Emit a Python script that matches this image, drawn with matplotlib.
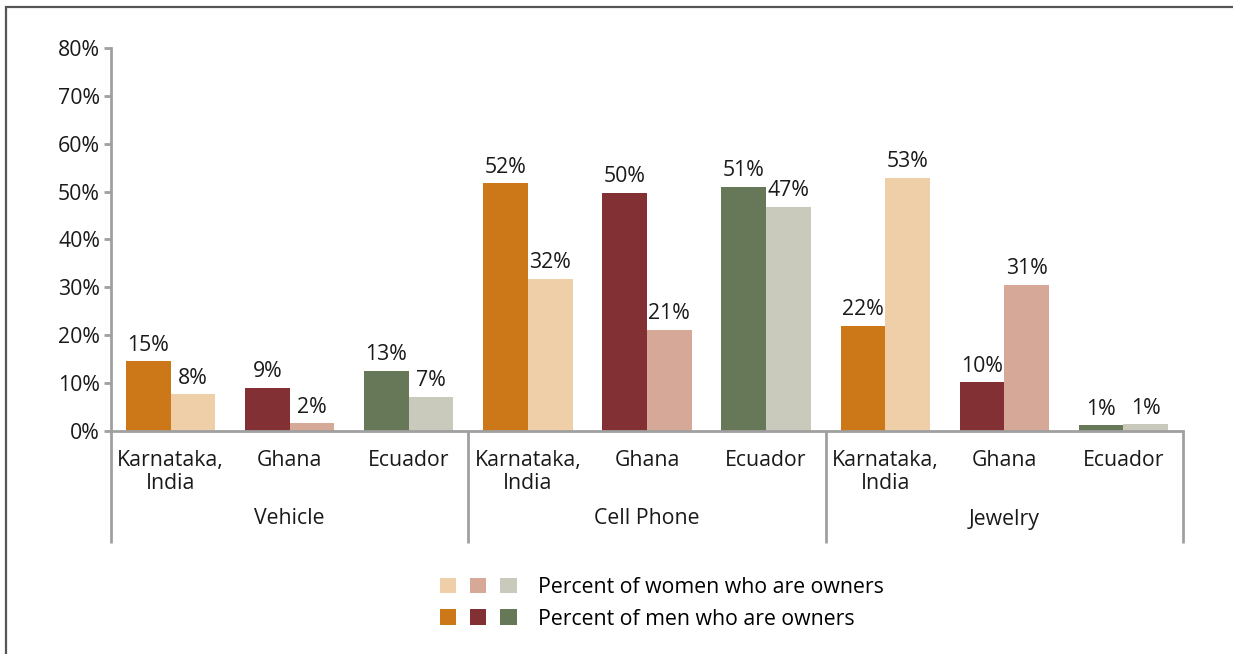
import matplotlib
matplotlib.use("Agg")
import matplotlib.pyplot as plt
from matplotlib.patches import Rectangle, Patch
from matplotlib.legend_handler import HandlerTuple
import matplotlib.transforms as mtransforms

plt.rcParams['font.family'] = ['Open Sans', 'DejaVu Sans']

groups = ["Vehicle", "Cell Phone", "Jewelry"]
countries = ["Karnataka,\nIndia", "Ghana", "Ecuador"]
men = [14.6, 9.0, 12.6,   51.7, 49.8, 51.0,   22.0, 10.2, 1.2]
women = [7.7, 1.6, 7.2,   31.8, 21.2, 46.8,   52.9, 30.6, 1.4]
men_colors = ["#CC7818", "#833034", "#667858"]
women_colors = ["#EFCFA8", "#D6A898", "#C9C9BC"]
yticks = [0, 10, 20, 30, 40, 50, 60, 70, 80]
legend_labels = ["Percent of women who are owners", "Percent of men who are owners"]

W, H = 1233, 654
fig = plt.figure(figsize=(W / 100, H / 100), dpi=100)
ax = fig.add_axes([111 / W, 1 - 431 / H, (1183 - 111) / W, (431 - 48) / H])

FS = 15.3
axis_gray = "#A0A0A0"
bw = 0.375
n = len(men)
for i in range(n):
    c = i % 3
    xc = i + 0.5
    ax.bar(xc - bw / 2, men[i], width=bw, color=men_colors[c], edgecolor='none')
    ax.bar(xc + bw / 2, women[i], width=bw, color=women_colors[c], edgecolor='none')
    ax.annotate(f"{round(men[i])}%", (xc - bw / 2, men[i]), xytext=(0, 4),
                textcoords='offset points', ha='center', va='bottom', fontsize=FS, color='#1a1a1a')
    ax.annotate(f"{round(women[i])}%", (xc + bw / 2, women[i]), xytext=(0, 4),
                textcoords='offset points', ha='center', va='bottom', fontsize=FS, color='#1a1a1a')

ax.set_xlim(0, n)
ax.set_ylim(0, 80)
ax.set_yticks(yticks)
ax.set_yticklabels([f"{t}%" for t in yticks], fontsize=FS, color='#1a1a1a')
ax.set_xticks([])
for s in ['top', 'right']:
    ax.spines[s].set_visible(False)
for s in ['left', 'bottom']:
    ax.spines[s].set_color(axis_gray)
    ax.spines[s].set_linewidth(2.0)
ax.tick_params(axis='y', length=5, width=2.0, color=axis_gray, pad=3)

trans = mtransforms.blended_transform_factory(ax.transData, ax.transAxes)
axh = 431 - 48
for i in range(n):
    ax.text(i + 0.5, -(450 - 431) / axh, countries[i % 3], transform=trans, ha='center', va='top',
            fontsize=FS, color='#1a1a1a', linespacing=1.1)
for g, name in enumerate(groups):
    ax.text(3 * g + 1.5, -(519 - 431) / axh, name, transform=trans, ha='center', va='center',
            fontsize=FS, color='#1a1a1a')
for xb in [0, 3, 6, 9]:
    ax.plot([xb, xb], [0, -(543 - 431) / axh], transform=trans, color=axis_gray, lw=2.0,
            clip_on=False, solid_capstyle='butt')

wh = tuple(Patch(facecolor=c, edgecolor='none') for c in women_colors)
mh = tuple(Patch(facecolor=c, edgecolor='none') for c in men_colors)
fig.legend([wh, mh], legend_labels, handler_map={tuple: HandlerTuple(ndivide=None, pad=0.66)},
           loc='upper left', bbox_to_anchor=(440 / W, 1 - 577 / H), frameon=False,
           fontsize=FS, handlelength=3.6, handleheight=0.75, handletextpad=1.0,
           labelspacing=0.5, borderpad=0, borderaxespad=0)

fig.add_artist(Rectangle((6 / W, -0.05), 1.2, 1 - 7 / H + 0.05, transform=fig.transFigure,
                         fill=False, edgecolor='#555555', lw=1.6))

fig.savefig("out.png", dpi=100)
